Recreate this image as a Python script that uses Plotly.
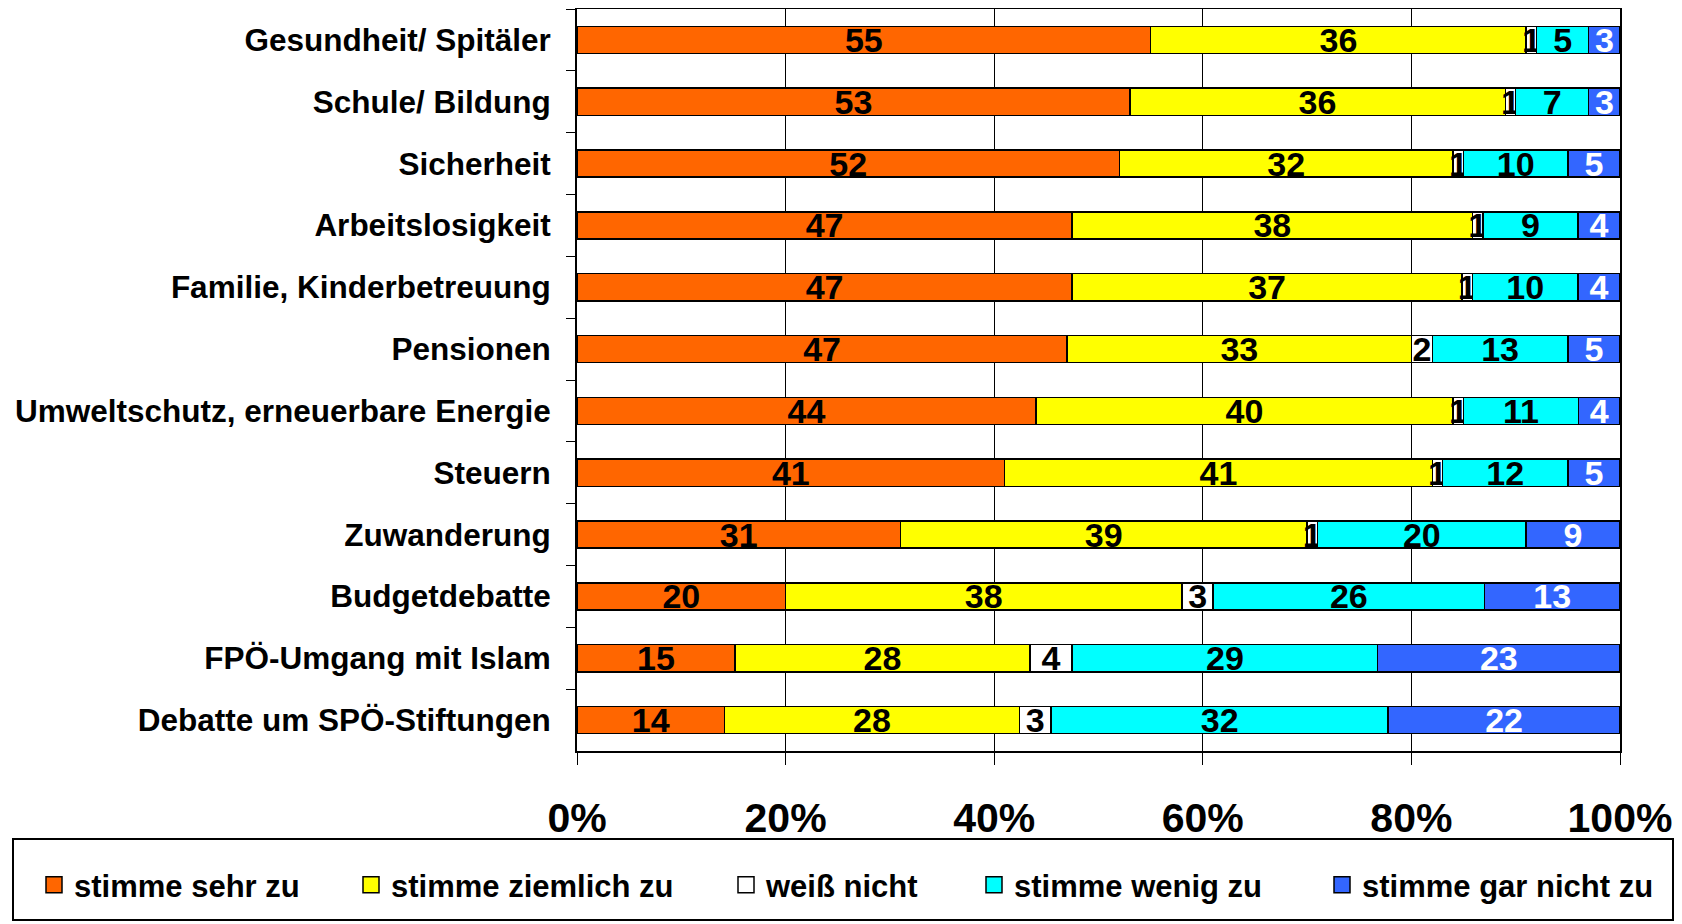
import plotly.graph_objects as go

# ── Data ──────────────────────────────────────────────────────────────────────
categories = [
    "Gesundheit/ Spitäler",
    "Schule/ Bildung",
    "Sicherheit",
    "Arbeitslosigkeit",
    "Familie, Kinderbetreuung",
    "Pensionen",
    "Umweltschutz, erneuerbare Energie",
    "Steuern",
    "Zuwanderung",
    "Budgetdebatte",
    "FPÖ-Umgang mit Islam",
    "Debatte um SPÖ-Stiftungen",
]

sehr_zu     = [55, 53, 52, 47, 47, 47, 44, 41, 31, 20, 15, 14]
ziemlich_zu = [36, 36, 32, 38, 37, 33, 40, 41, 39, 38, 28, 28]
weiss_nicht = [1, 1, 1, 1, 1, 2, 1, 1, 1, 3, 4, 3]
wenig_zu    = [5, 7, 10, 9, 10, 13, 11, 12, 20, 26, 29, 32]
gar_nicht   = [3, 3, 5, 4, 4, 5, 4, 5, 9, 13, 23, 22]

series = [
    ("stimme sehr zu",      sehr_zu,     "#FF6600", "black"),
    ("stimme ziemlich zu",  ziemlich_zu, "#FFFF00", "black"),
    ("weiß nicht",          weiss_nicht, "#FFFFFF", "black"),
    ("stimme wenig zu",     wenig_zu,    "#00FFFF", "black"),
    ("stimme gar nicht zu", gar_nicht,   "#3366FF", "white"),
]

tick_vals = [0, 20, 40, 60, 80, 100]
tick_text = ["0%", "20%", "40%", "60%", "80%", "100%"]

FONT = "Liberation Sans, Arial, sans-serif"

# page body has an 8px margin -> figure coords = window coords - 8
OFF = 8
W, H = 1682 - OFF, 924 - OFF
PLOT_L, PLOT_R = 577 - OFF, 1620 - OFF
PLOT_T, PLOT_B = 9 - OFF, 751 - OFF
PLOT_W = PLOT_R - PLOT_L
PLOT_H = PLOT_B - PLOT_T


def paper_x(win_x):
    return (win_x - OFF - PLOT_L) / PLOT_W


def paper_y(win_y):
    return (PLOT_B - (win_y - OFF)) / PLOT_H


# legend entry marker left edges (window px) -> one legend per series
legend_px = [48, 365, 740, 988, 1336]

fig = go.Figure()

for i, (name, vals, color, txtcolor) in enumerate(series):
    fig.add_trace(
        go.Bar(
            y=categories,
            x=vals,
            name=name,
            orientation="h",
            marker=dict(color=color, line=dict(color="black", width=1.5)),
            text=vals,
            texttemplate="<b>%{text}</b>",
            textposition="inside",
            insidetextanchor="middle",
            textangle=0,
            textfont=dict(family=FONT, size=34, color=txtcolor),
            showlegend=False,
            hoverinfo="skip",
        )
    )
    # legend-only entry with a larger square swatch
    fig.add_trace(
        go.Scatter(
            x=[None],
            y=[None],
            mode="markers",
            name=name,
            marker=dict(symbol="square", size=16, color=color,
                        line=dict(color="black", width=1.5)),
            legend=f"legend{i + 2}",
            hoverinfo="skip",
        )
    )

legend_common = dict(
    orientation="h",
    yanchor="middle",
    y=paper_y(885),
    xanchor="left",
    bgcolor="rgba(0,0,0,0)",
    font=dict(family=FONT, size=31, color="black", weight="bold"),
    itemclick=False,
)

layout_legends = {}
for i, px_x in enumerate(legend_px):
    layout_legends[f"legend{i + 2}"] = dict(legend_common, x=paper_x(px_x - 14))

fig.update_layout(
    barmode="stack",
    barnorm="percent",
    bargap=0.56,
    width=W,
    height=H,
    paper_bgcolor="white",
    plot_bgcolor="white",
    margin=dict(l=PLOT_L, r=W - PLOT_R, t=PLOT_T, b=H - PLOT_B, autoexpand=False),
    uniformtext=dict(minsize=34, mode="show"),
    font=dict(family=FONT, color="black"),
    xaxis=dict(
        range=[0, 100],
        tickvals=tick_vals,
        ticktext=tick_text,
        tickfont=dict(family=FONT, size=41, color="black", weight="bold"),
        showgrid=True,
        gridcolor="black",
        gridwidth=1,
        showline=True,
        linecolor="black",
        linewidth=2,
        mirror=True,
        ticks="outside",
        ticklen=12,
        tickcolor="black",
        ticklabelstandoff=18,
        zeroline=False,
        fixedrange=True,
    ),
    yaxis=dict(
        autorange="reversed",
        tickfont=dict(family=FONT, size=31.5, color="black", weight="bold"),
        showline=True,
        linecolor="black",
        linewidth=2,
        mirror=True,
        ticks="outside",
        tickson="boundaries",
        ticklen=9,
        tickcolor="black",
        ticklabelstandoff=18,
        showgrid=False,
        fixedrange=True,
    ),
    shapes=[
        dict(
            type="rect",
            xref="paper",
            yref="paper",
            x0=paper_x(13),
            x1=paper_x(1673),
            y0=paper_y(920),
            y1=paper_y(839),
            line=dict(color="black", width=2),
            fillcolor="rgba(0,0,0,0)",
        )
    ],
    **layout_legends,
)

fig.write_html("out.html")
